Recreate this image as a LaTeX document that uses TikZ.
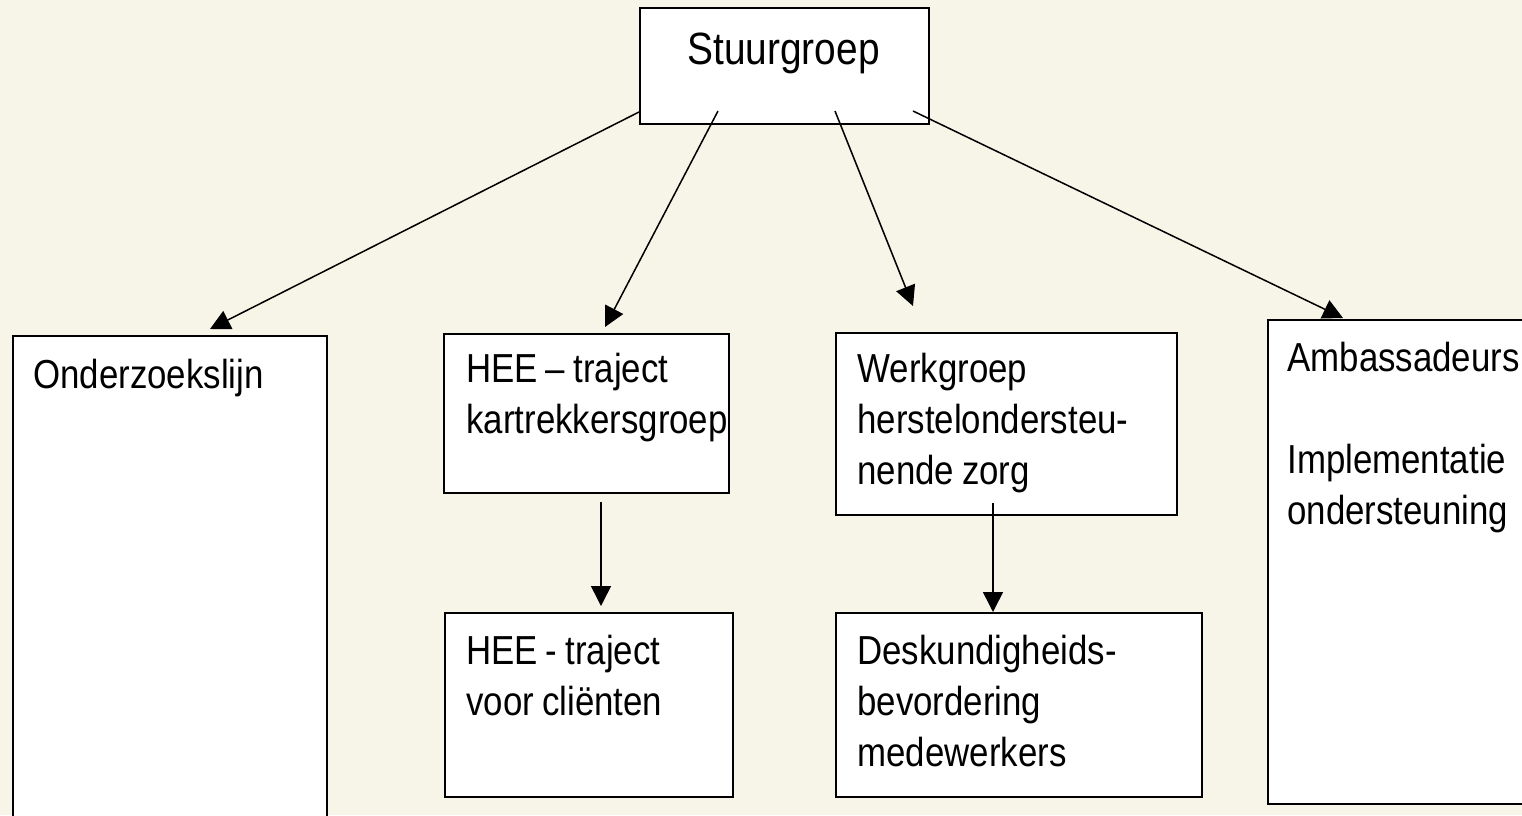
\documentclass[tikz,border=0pt]{standalone}
\usepackage{fontspec}
\setmainfont{Liberation Sans}[FakeStretch=0.86]
\usetikzlibrary{arrows.meta}
\definecolor{bgcream}{RGB}{247,245,231}
\newcommand\lblfont{\fontsize{20.25pt}{25.5pt}\selectfont}
\newcommand\wsp{\hspace{4pt}}
\begin{document}
\begin{tikzpicture}[x=0.5pt,y=-0.5pt,
  box/.style={draw=black, line width=1pt, fill=white, inner sep=0pt, anchor=north west},
  lbl/.style={anchor=base west, inner sep=0pt, text width=170pt, align=left,
    font=\lblfont},
  conn/.style={line width=0.75pt, -{Triangle[length=10pt,width=10pt]}}]
\fill[bgcream] (0,0) rectangle (1522,815);
\useasboundingbox (0,0) rectangle (1522,815);
\clip (0,0) rectangle (1522,815);

% boxes
\node[box, minimum width=144.5pt, minimum height=58pt]  (st)  at (639,7)   {};
\node[box, minimum width=157pt,   minimum height=250pt] (ond) at (12,335)  {};
\node[box, minimum width=142.5pt, minimum height=79.5pt] (hee) at (443,333) {};
\node[box, minimum width=144pt,   minimum height=92pt]  (cli) at (444,612) {};
\node[box, minimum width=170.5pt, minimum height=91pt]  (wg)  at (835,332) {};
\node[box, minimum width=183pt,   minimum height=92pt]  (des) at (835,612) {};
\node[box, minimum width=140pt,   minimum height=242pt] (amb) at (1267,319) {};

% texts
\node[anchor=base, inner sep=0pt, font=\fontsize{22.6pt}{28pt}\selectfont] (tst) at (783.5,64) {Stuurgroep};
\node[lbl] (tond) at (33,388)   {Onderzoekslijn};
\node[lbl] (thee) at (466,382)  {HEE\wsp–\wsp traject\\kartrekkersgroep};
\node[lbl] (tcli) at (466,664)  {HEE\wsp-\wsp traject\\voor\wsp cliënten};
\node[lbl] (twg)  at (857,382)  {Werkgroep\\herstelondersteu-\\nende\wsp zorg};
\node[lbl] (tdes) at (857,664)  {Deskundigheids-\\bevordering\\medewerkers};
\node[lbl] (tamb) at (1287,371) {Ambassadeurs};
\node[lbl] (timp) at (1287,473) {Implementatie\\ondersteuning};

% connector end points
\coordinate (s1) at (639,112);  \coordinate (e1) at (210,329);
\coordinate (s2) at (718,111);  \coordinate (e2) at (605,327);
\coordinate (s3) at (835,111);  \coordinate (e3) at (913,306);
\coordinate (s4) at (913,111);  \coordinate (e4) at (1343,318);
\coordinate (s5) at (601,502);  \coordinate (e5) at (601,606);
\coordinate (s6) at (993,503);  \coordinate (e6) at (993,612);

\draw[conn] (s1) -- (e1);
\draw[conn] (s2) -- (e2);
\draw[conn] (s3) -- (e3);
\draw[conn] (s4) -- (e4);
\draw[conn] (s5) -- (e5);
\draw[conn] (s6) -- (e6);
\end{tikzpicture}
\end{document}
